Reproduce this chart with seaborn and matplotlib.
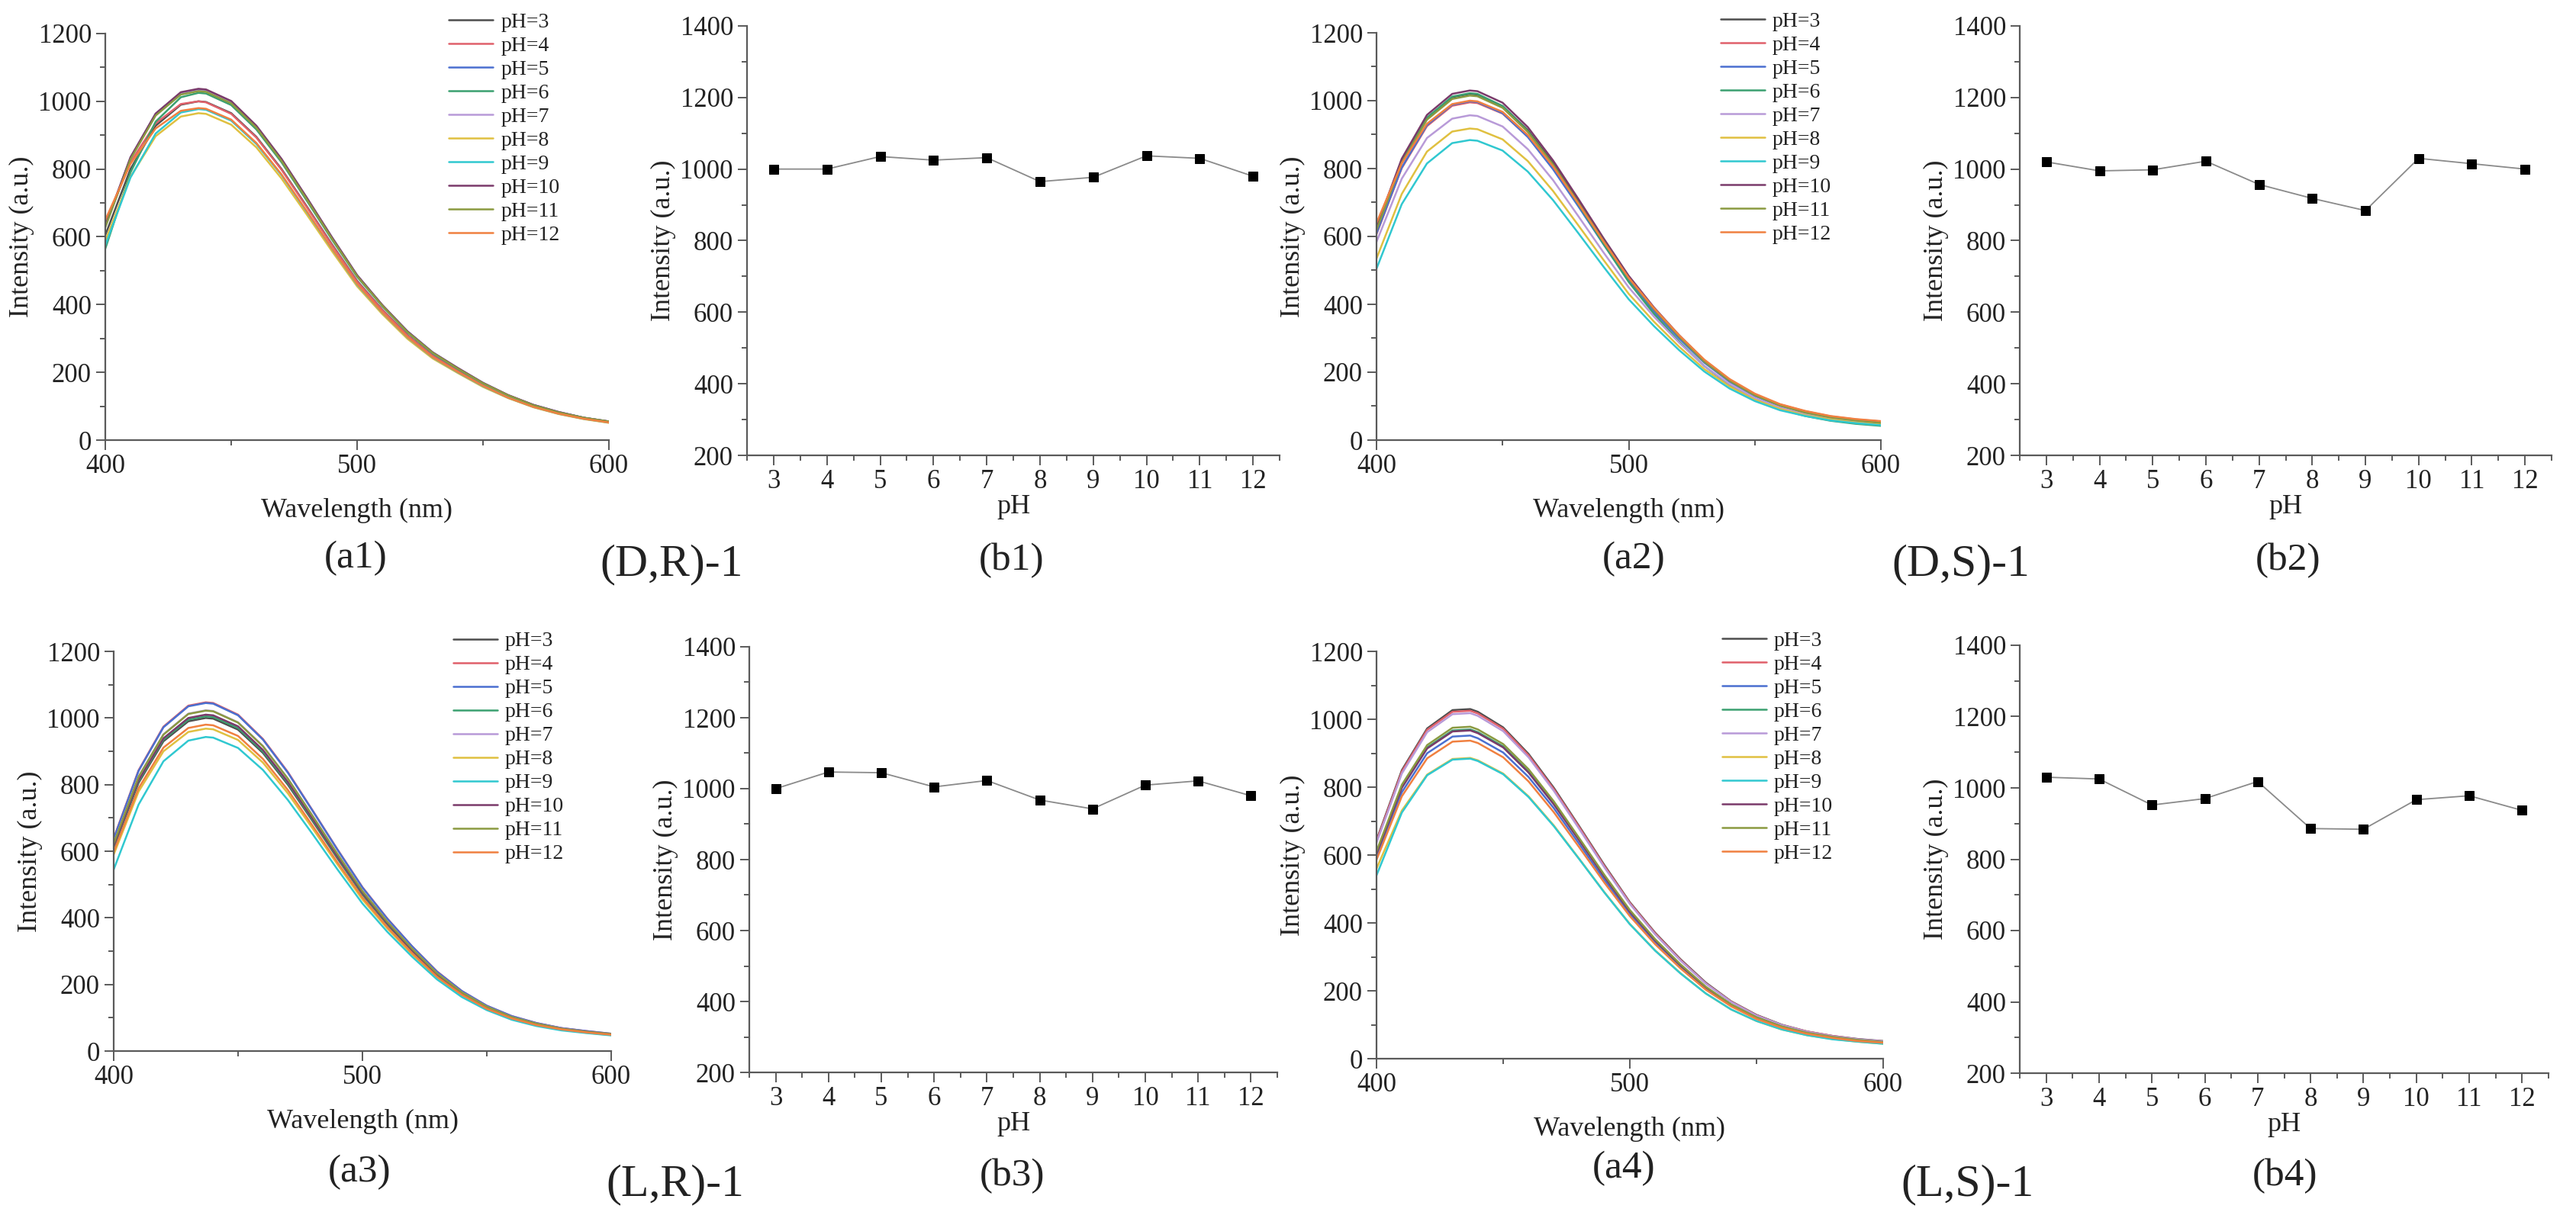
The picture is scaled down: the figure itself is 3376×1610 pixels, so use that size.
import pandas as pd
import matplotlib
matplotlib.use("Agg")
import matplotlib.pyplot as plt
from matplotlib.ticker import MultipleLocator
import seaborn as sns

# ---- data ----
PH_VALUES = [3, 4, 5, 6, 7, 8, 9, 10, 11, 12]
PH_LABELS = ["pH=3", "pH=4", "pH=5", "pH=6", "pH=7",
             "pH=8", "pH=9", "pH=10", "pH=11", "pH=12"]
PH_COLORS = ["#4d4d4d", "#e0606a", "#4a6fd0", "#3aa070", "#b89ad8",
             "#e0c040", "#30c8d0", "#7a3a6a", "#8a9a40", "#f08040"]

WAVELENGTH = [400, 410, 420, 430, 437, 440, 450, 460, 470, 480, 490,
              500, 510, 520, 530, 540, 550, 560, 570, 580, 590, 600]

# emission spectra, one row per pH (3..12)
SPEC_DR = [
    [605, 800, 928, 990, 1000, 998, 965, 895, 800, 690, 578, 470, 385, 310, 250, 205, 163, 128, 100, 80, 64, 53],
    [640, 820, 935, 992, 1000, 997, 963, 893, 798, 688, 576, 468, 384, 309, 249, 204, 162, 127, 100, 80, 64, 54],
    [631, 833, 963, 1025, 1035, 1033, 999, 926, 828, 714, 598, 486, 398, 321, 259, 212, 169, 132, 104, 83, 66, 55],
    [565, 790, 940, 1012, 1025, 1023, 989, 917, 820, 707, 592, 482, 395, 318, 256, 210, 167, 131, 103, 82, 66, 54],
    [630, 831, 960, 1022, 1032, 1030, 996, 924, 826, 712, 596, 485, 397, 320, 258, 212, 168, 132, 103, 83, 66, 55],
    [589, 777, 897, 955, 965, 963, 931, 864, 772, 666, 558, 454, 372, 299, 241, 198, 157, 124, 97, 77, 62, 51],
    [575, 775, 905, 967, 977, 975, 943, 874, 782, 674, 565, 459, 376, 303, 244, 200, 159, 125, 98, 78, 63, 52],
    [633, 835, 964, 1027, 1037, 1035, 1001, 928, 830, 716, 599, 487, 399, 321, 259, 213, 169, 133, 104, 83, 66, 55],
    [628, 829, 958, 1020, 1030, 1028, 994, 922, 824, 711, 595, 484, 397, 319, 258, 211, 168, 132, 103, 82, 66, 55],
    [650, 815, 920, 972, 980, 978, 946, 877, 784, 676, 566, 461, 377, 304, 245, 201, 160, 125, 98, 78, 63, 52],
]
SPEC_DS = [
    [622, 821, 949, 1010, 1020, 1018, 984, 913, 816, 704, 590, 479, 388, 306, 233, 175, 133, 102, 82, 67, 58, 51],
    [607, 801, 925, 985, 995, 993, 962, 894, 801, 693, 582, 475, 386, 306, 234, 177, 135, 105, 85, 70, 61, 55],
    [609, 803, 928, 988, 998, 996, 963, 893, 798, 689, 577, 469, 379, 299, 228, 172, 130, 100, 80, 66, 57, 50],
    [623, 823, 950, 1012, 1022, 1020, 984, 910, 810, 695, 578, 466, 372, 290, 218, 162, 121, 91, 71, 57, 48, 42],
    [584, 770, 890, 947, 957, 955, 924, 857, 766, 660, 553, 450, 364, 287, 218, 165, 124, 96, 77, 63, 55, 48],
    [535, 725, 850, 909, 918, 916, 886, 822, 734, 633, 531, 431, 349, 275, 209, 158, 119, 92, 73, 61, 52, 46],
    [505, 695, 815, 875, 884, 882, 853, 791, 707, 610, 511, 415, 336, 265, 202, 152, 115, 88, 71, 58, 50, 44],
    [628, 829, 958, 1020, 1030, 1028, 994, 922, 824, 711, 595, 484, 391, 309, 235, 177, 134, 103, 82, 68, 59, 52],
    [619, 817, 944, 1005, 1015, 1013, 979, 908, 812, 700, 587, 477, 386, 305, 231, 175, 132, 102, 81, 67, 58, 51],
    [640, 815, 932, 990, 1000, 998, 967, 899, 806, 697, 585, 478, 389, 309, 237, 180, 137, 106, 86, 71, 62, 56],
]
SPEC_LR = [
    [610, 805, 930, 990, 1000, 998, 965, 895, 800, 690, 578, 470, 380, 300, 228, 172, 130, 100, 80, 66, 57, 50],
    [639, 843, 974, 1037, 1047, 1045, 1010, 937, 838, 722, 605, 492, 398, 314, 239, 180, 136, 105, 84, 69, 60, 52],
    [637, 841, 972, 1035, 1045, 1043, 1008, 935, 836, 721, 604, 491, 397, 314, 238, 180, 136, 105, 84, 69, 60, 52],
    [613, 809, 935, 995, 1005, 1003, 970, 899, 804, 693, 581, 472, 382, 302, 229, 173, 131, 101, 80, 66, 57, 50],
    [624, 824, 951, 1013, 1023, 1021, 987, 916, 818, 706, 591, 481, 389, 307, 233, 176, 133, 102, 82, 68, 58, 51],
    [590, 779, 900, 958, 968, 966, 934, 866, 774, 668, 560, 455, 368, 290, 221, 166, 126, 97, 77, 64, 55, 48],
    [545, 740, 870, 932, 943, 941, 910, 844, 754, 651, 545, 443, 358, 283, 215, 162, 123, 94, 75, 62, 54, 47],
    [616, 813, 939, 1000, 1010, 1008, 975, 904, 808, 697, 584, 475, 384, 303, 230, 174, 131, 101, 81, 67, 58, 51],
    [623, 823, 950, 1012, 1022, 1020, 986, 915, 818, 705, 591, 480, 388, 307, 233, 176, 133, 102, 82, 67, 58, 51],
    [598, 789, 911, 970, 980, 978, 946, 877, 784, 676, 566, 461, 372, 294, 223, 169, 127, 98, 78, 65, 56, 49],
]
SPEC_LS = [
    [644, 850, 973, 1027, 1030, 1022, 976, 898, 798, 685, 570, 461, 371, 293, 224, 169, 129, 100, 80, 67, 58, 52],
    [641, 846, 969, 1022, 1025, 1017, 972, 894, 794, 682, 567, 459, 369, 291, 222, 168, 128, 99, 80, 67, 57, 51],
    [595, 785, 900, 949, 952, 944, 902, 830, 738, 633, 526, 426, 343, 270, 207, 156, 119, 92, 74, 62, 53, 48],
    [606, 800, 917, 967, 970, 962, 920, 846, 752, 645, 536, 435, 349, 275, 210, 159, 121, 94, 76, 63, 54, 49],
    [636, 840, 962, 1015, 1018, 1010, 965, 888, 789, 677, 563, 456, 366, 289, 221, 167, 127, 99, 79, 66, 57, 51],
    [560, 731, 837, 883, 886, 879, 840, 773, 687, 589, 490, 397, 319, 252, 192, 145, 111, 86, 69, 58, 50, 44],
    [540, 725, 835, 881, 884, 877, 838, 771, 685, 588, 489, 396, 318, 251, 192, 145, 111, 86, 69, 57, 50, 44],
    [604, 798, 914, 964, 967, 959, 917, 843, 749, 643, 535, 433, 348, 275, 210, 159, 121, 94, 75, 63, 54, 48],
    [611, 807, 924, 975, 978, 970, 927, 853, 758, 650, 541, 438, 352, 278, 212, 160, 122, 95, 76, 64, 55, 49],
    [586, 773, 885, 934, 937, 930, 888, 817, 726, 623, 518, 420, 337, 266, 203, 154, 117, 91, 73, 61, 52, 47],
]

# peak intensity vs pH
PEAK_DR = [1000, 1000, 1035, 1025, 1032, 965, 977, 1037, 1030, 980]
PEAK_DS = [1020, 995, 998, 1022, 957, 918, 884, 1030, 1015, 1000]
PEAK_LR = [1000, 1047, 1045, 1005, 1023, 968, 943, 1010, 1022, 980]
PEAK_LS = [1030, 1025, 952, 970, 1018, 886, 884, 967, 978, 937]

SUB_LABELS = ["(a1)", "(b1)", "(a2)", "(b2)", "(a3)", "(b3)", "(a4)", "(b4)"]
GROUP_LABELS = ["(D,R)-1", "(D,S)-1", "(L,R)-1", "(L,S)-1"]

# ---- style ----
sns.set_style("ticks")
plt.rcParams["font.family"] = ["Liberation Serif", "DejaVu Serif"]

W, H = 3376, 1610
AXIS_GRAY = "#5a5a5a"
TEXT_COL = "#222222"

fig = plt.figure(figsize=(W / 100, H / 100), dpi=100)


def px_axes(x0, y0, x1, y1):
    # pixel box (left, top, right, bottom) -> figure axes
    return fig.add_axes([x0 / W, 1 - y1 / H, (x1 - x0) / W, (y1 - y0) / H])


def style_axes(ax):
    sns.despine(ax=ax)
    for side in ["left", "bottom"]:
        ax.spines[side].set_color(AXIS_GRAY)
        ax.spines[side].set_linewidth(1.6)
    ax.tick_params(which="both", direction="out", color=AXIS_GRAY,
                   width=1.4, labelsize=25, labelcolor=TEXT_COL)
    ax.tick_params(which="major", length=9, pad=4)
    ax.tick_params(which="minor", length=5)


def draw_spectra(ax, curves, legend_top):
    rows = []
    for label, vals in zip(PH_LABELS, curves):
        for w, v in zip(WAVELENGTH, vals):
            rows.append((w, v, label))
    df = pd.DataFrame(rows, columns=["wavelength", "intensity", "pH"])
    sns.lineplot(data=df, x="wavelength", y="intensity", hue="pH",
                 hue_order=PH_LABELS, palette=PH_COLORS, estimator=None,
                 linewidth=1.8, legend=False, ax=ax)
    ax.set_xlim(400, 600)
    ax.set_ylim(0, 1200)
    ax.xaxis.set_major_locator(MultipleLocator(100))
    ax.xaxis.set_minor_locator(MultipleLocator(50))
    ax.yaxis.set_major_locator(MultipleLocator(200))
    ax.yaxis.set_minor_locator(MultipleLocator(100))
    style_axes(ax)
    ax.set_xlabel("Wavelength (nm)", fontsize=26, color=TEXT_COL, labelpad=18)
    ax.set_ylabel("Intensity (a.u.)", fontsize=26, color=TEXT_COL, labelpad=4)
    ax.legend(ax.get_lines()[:10], PH_LABELS, loc="upper left",
              bbox_to_anchor=(0.682, legend_top), frameon=False, fontsize=20,
              handlelength=2.1, handletextpad=0.35, labelspacing=0.2,
              borderpad=0, borderaxespad=0, labelcolor=TEXT_COL)


def draw_peaks(ax, peaks):
    sns.lineplot(x=PH_VALUES, y=peaks, color="#8a8a8a", linewidth=1.3,
                 marker="s", markersize=9, markerfacecolor="black",
                 markeredgecolor="black", ax=ax)
    ax.set_xlim(2.5, 12.5)
    ax.set_ylim(200, 1400)
    ax.set_xticks(PH_VALUES)
    ax.xaxis.set_minor_locator(MultipleLocator(0.5))
    ax.yaxis.set_major_locator(MultipleLocator(200))
    ax.yaxis.set_minor_locator(MultipleLocator(100))
    style_axes(ax)
    ax.set_xlabel("pH", fontsize=26, color=TEXT_COL, labelpad=0)
    ax.set_ylabel("Intensity (a.u.)", fontsize=26, color=TEXT_COL, labelpad=4)


# panel boxes in pixels: left, top, right, bottom
ax_a1 = px_axes(138, 44, 798, 577)
ax_b1 = px_axes(979, 34, 1677, 597)
ax_a2 = px_axes(1804, 43, 2465, 577)
ax_b2 = px_axes(2647, 34, 3344, 597)
ax_a3 = px_axes(149, 854, 801, 1378)
ax_b3 = px_axes(982, 848, 1674, 1406)
ax_a4 = px_axes(1804, 854, 2468, 1388)
ax_b4 = px_axes(2647, 846, 3340, 1407)

draw_spectra(ax_a1, SPEC_DR, 1.052)
draw_peaks(ax_b1, PEAK_DR)
draw_spectra(ax_a2, SPEC_DS, 1.052)
draw_peaks(ax_b2, PEAK_DS)
draw_spectra(ax_a3, SPEC_LR, 1.05)
draw_peaks(ax_b3, PEAK_LR)
draw_spectra(ax_a4, SPEC_LS, 1.05)
draw_peaks(ax_b4, PEAK_LS)

# sub-figure labels
sub_pos = [(466, 732), (1326, 735), (2141, 733), (2999, 735),
           (471, 1537), (1326, 1542), (2128, 1532), (2994, 1542)]
for lab, (x, y) in zip(SUB_LABELS, sub_pos):
    fig.text(x / W, 1 - y / H, lab, fontsize=37, color=TEXT_COL,
             ha="center", va="center")

group_pos = [(880, 740), (2570, 740), (885, 1553), (2578, 1553)]
for lab, (x, y) in zip(GROUP_LABELS, group_pos):
    fig.text(x / W, 1 - y / H, lab, fontsize=43, color=TEXT_COL,
             ha="center", va="center")

fig.savefig("out.png", dpi=100, facecolor="white")
